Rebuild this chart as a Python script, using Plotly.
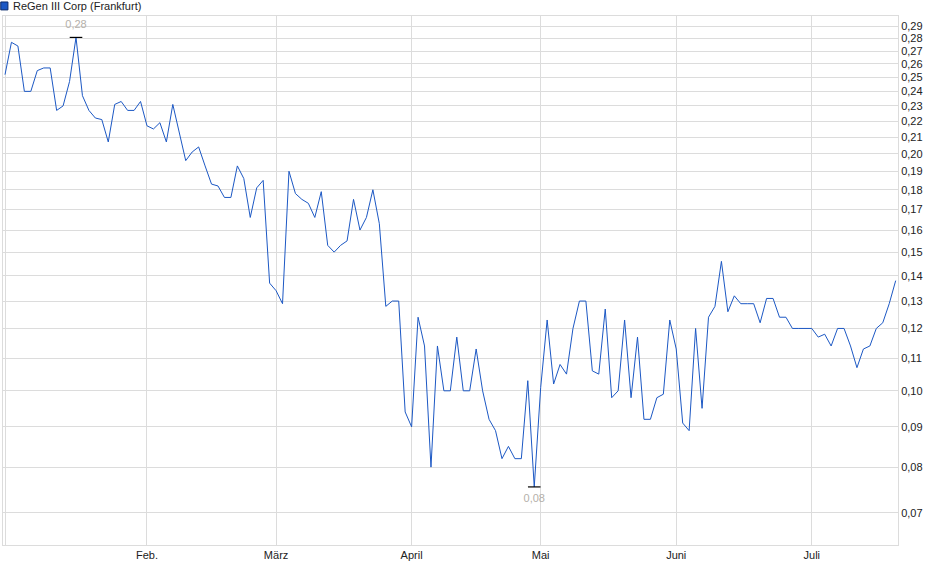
import plotly.graph_objects as go

# closing prices, one per trading day (Jan - Jul)
prices = [
    0.252, 0.277, 0.274, 0.240, 0.240, 0.255, 0.257, 0.257, 0.227, 0.230,
    0.247, 0.281, 0.237, 0.227, 0.222, 0.221, 0.207, 0.231, 0.233, 0.227,
    0.227, 0.233, 0.217, 0.215, 0.219, 0.207, 0.231, 0.213, 0.196, 0.201,
    0.204, 0.193, 0.183, 0.182, 0.176, 0.176, 0.193, 0.186, 0.166, 0.181,
    0.185, 0.137, 0.134, 0.129, 0.190, 0.178, 0.175, 0.173, 0.166, 0.179,
    0.153, 0.150, 0.153, 0.155, 0.175, 0.160, 0.166, 0.180, 0.163, 0.128,
    0.130, 0.130, 0.094, 0.090, 0.124, 0.114, 0.080, 0.114, 0.100, 0.100,
    0.117, 0.100, 0.100, 0.113, 0.100, 0.092, 0.089, 0.082, 0.085, 0.082,
    0.082, 0.103, 0.0755, 0.101, 0.123, 0.102, 0.108, 0.105, 0.120, 0.130,
    0.130, 0.106, 0.105, 0.127, 0.098, 0.100, 0.123, 0.098, 0.117, 0.092,
    0.092, 0.098, 0.099, 0.123, 0.113, 0.091, 0.089, 0.120, 0.095, 0.124,
    0.128, 0.146, 0.126, 0.132, 0.129, 0.129, 0.129, 0.122, 0.131, 0.131,
    0.124, 0.124, 0.120, 0.120, 0.120, 0.120, 0.117, 0.118, 0.114, 0.120,
    0.120, 0.114, 0.107, 0.113, 0.114, 0.120, 0.122, 0.129, 0.138,
]
days = list(range(len(prices)))

# first trading day of each month (index into prices)
month_pos = [0, 22, 42, 63, 83, 104, 125]
month_names = ["", "Feb.", "März", "April", "Mai", "Juni", "Juli"]

y_ticks = [0.07, 0.08, 0.09, 0.10, 0.11, 0.12, 0.13, 0.14, 0.15, 0.16, 0.17, 0.18,
           0.19, 0.20, 0.21, 0.22, 0.23, 0.24, 0.25, 0.26, 0.27, 0.28, 0.29]
y_labels = [f"{v:.2f}".replace(".", ",") for v in y_ticks]

series_name = "ReGen III Corp (Frankfurt)"

hi = max(range(len(prices)), key=lambda i: prices[i])
lo = min(range(len(prices)), key=lambda i: prices[i])

font = "Liberation Sans, Arial, sans-serif"
grid = "#dcdcdc"
blue = "#1c58c4"


def fmt(v):
    return f"{v:.2f}".replace(".", ",")


fig = go.Figure()
fig.add_trace(go.Scatter(
    x=days, y=prices, mode="lines",
    line=dict(color=blue, width=1),
    showlegend=False, hoverinfo="skip",
))
# max / min markers
for idx, pos in ((hi, "top center"), (lo, "bottom center")):
    fig.add_trace(go.Scatter(
        x=[idx], y=[prices[idx]], mode="markers+text",
        marker=dict(symbol="line-ew", size=9, line=dict(color="black", width=1.2)),
        text=[fmt(prices[idx])], textposition=pos,
        textfont=dict(family=font, size=11, color="#b4b0aa"),
        showlegend=False, hoverinfo="skip",
    ))

# legend box + text above the plot
fig.add_shape(type="rect", xref="paper", yref="paper",
              x0=-0.0025, x1=0.0055, y0=1.0115, y1=1.0265,
              fillcolor=blue, line=dict(color="#0a2a6a", width=1))
fig.add_annotation(text=series_name, xref="paper", yref="paper",
                   x=0.0085, y=1.019, xanchor="left", yanchor="middle",
                   showarrow=False, font=dict(family=font, size=11, color="#222"))

fig.update_layout(
    width=940, height=579,
    margin=dict(l=3, r=42, t=16, b=34),
    paper_bgcolor="white", plot_bgcolor="white",
    font=dict(family=font, size=11, color="#222"),
    xaxis=dict(
        range=[-0.31, 138.36],
        tickvals=month_pos, ticktext=month_names,
        showgrid=True, gridcolor=grid, gridwidth=1,
        showline=True, linecolor=grid, mirror=True,
        zeroline=False, ticks="", automargin=False,
    ),
    yaxis=dict(
        type="log", side="right",
        range=[-1.1958, -0.5241],
        tickvals=y_ticks, ticktext=y_labels,
        showgrid=True, gridcolor=grid, gridwidth=1,
        showline=True, linecolor=grid, mirror=True,
        zeroline=False, ticks="", automargin=False,
    ),
)

fig.write_html("out.html", config={"displayModeBar": False},
               post_script="document.body.style.margin='0px';")
